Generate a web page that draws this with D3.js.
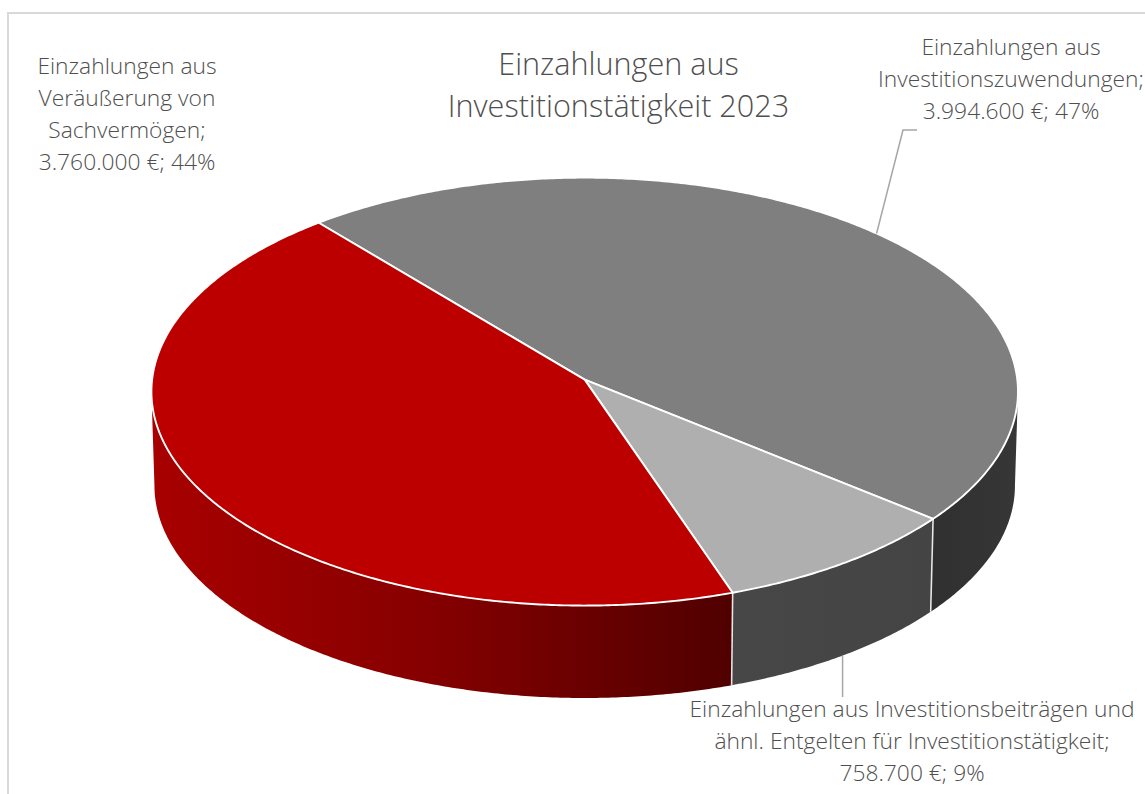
<!DOCTYPE html>
<html lang="de"><head><meta charset="utf-8">
<style>html,body{margin:0;padding:0;background:#fff;overflow:hidden}svg{display:block}text{font-family:"Open Sans",sans-serif;font-weight:300;fill:#4f4f4f;text-anchor:middle}</style>
<script src="https://cdn.jsdelivr.net/npm/d3@7"></script></head><body>
<svg id="c" width="1145" height="794"></svg>
<script>
const categories=["Einzahlungen aus Investitionszuwendungen","Einzahlungen aus Investitionsbeiträgen und ähnl. Entgelten für Investitionstätigkeit","Einzahlungen aus Veräußerung von Sachvermögen"];
const values=[3994600,758700,3760000];
const topColors=["#7f7f7f","#afafaf","#bc0000"];
const sideFills=["url(#gGrey)","url(#gLight)","url(#gRed)"];
const titleLines=["Einzahlungen aus","Investitionstätigkeit 2023"];
const labelLines=[["Einzahlungen aus","Investitionszuwendungen;","3.994.600 €; 47%"],["Einzahlungen aus Investitionsbeiträgen und","ähnl. Entgelten für Investitionstätigkeit;","758.700 €; 9%"],["Einzahlungen aus","Veräußerung von","Sachvermögen;","3.760.000 €; 44%"]];
const labelPos=[[1011,55,32],[912,717,32],[127,74,32]];
const fs=22.8, titleFs=30.6;

const svg=d3.select("#c");
const defs=svg.append("defs");
function grad(id,x1,x2,stops){const g=defs.append("linearGradient").attr("id",id).attr("gradientUnits","userSpaceOnUse").attr("x1",x1).attr("x2",x2).attr("y1",0).attr("y2",0);
 stops.forEach(s=>g.append("stop").attr("offset",s[0]).attr("stop-color",s[1]));}
grad("gRed",152,733,[[0,"#a80000"],[.45,"#880000"],[1,"#500000"]]);
grad("gLight",733,932,[[0,"#474747"],[1,"#444444"]]);
grad("gGrey",932,1016,[[0,"#303030"],[1,"#363636"]]);

// perspective disc projection
const k=0.0561;
const cx=584.7, rx=432.6;
const sx=d3.scaleLinear().domain([-1,1]).range([cx-rx,cx+rx]);
const syTop=d3.scaleLinear().domain([-1,1]).range([379.6-213.3,379.6+213.3]);
const s=0.993;
const sxBot=d3.scaleLinear().domain([-1,1]).range([cx-rx*s,cx+rx*s]);
const syBot=d3.scaleLinear().domain([-1,1]).range([473.6-213.3*s,473.6+213.3*s]);
const proj=(a,r,fx,fy)=>{const u=r*Math.sin(a),v=-r*Math.cos(a),w=1-k*v;return [fx(u/w),fy(v/w)];};
const topP=(a,r=1)=>proj(a,r,sx,syTop), botP=(a,r=1)=>proj(a,r,sxBot,syBot);
const rad=d=>d*Math.PI/180;
const start=rad(-39.9);
const arcs=d3.pie().sort(null).startAngle(start).endAngle(start+2*Math.PI)(values);
const sampleRange=(a0,a1)=>{const n=Math.max(1,Math.ceil((a1-a0)/rad(0.5)));return d3.range(n+1).map(i=>a0+(a1-a0)*i/n);};
const samples=d=>sampleRange(d.startAngle,d.endAngle);
const line=d3.line();

// frame
svg.append("rect").attr("x",8).attr("y",13).attr("width",1300).attr("height",1000).attr("fill","#fff").attr("stroke","#d9d9d9").attr("stroke-width",2);

// walls: only the front-facing part between the two silhouette angles
const frontLo=Math.PI/2+Math.asin(k), frontHi=3*Math.PI/2-Math.asin(k);
const front=d=>sampleRange(Math.max(d.startAngle,frontLo),Math.min(d.endAngle,frontHi));
svg.append("g").selectAll("path").data(arcs).join("path")
 .attr("d",d=>{const a=front(d);return line(a.map(t=>topP(t)).concat(a.slice().reverse().map(t=>botP(t))))+"Z";})
 .attr("fill",(d,i)=>sideFills[i]);
// wall seams
svg.append("g").selectAll("line").data(arcs).join("line")
 .attr("x1",d=>topP(d.startAngle)[0]).attr("y1",d=>topP(d.startAngle)[1])
 .attr("x2",d=>botP(d.startAngle)[0]).attr("y2",d=>botP(d.startAngle)[1])
 .attr("stroke","#fff").attr("stroke-width",1.6).attr("opacity",.85);
// top faces
svg.append("g").selectAll("path").data(arcs).join("path")
 .attr("d",d=>line([topP(0,0)].concat(samples(d).map(t=>topP(t))))+"Z")
 .attr("fill",(d,i)=>topColors[i]).attr("stroke","#fff").attr("stroke-width",1.9).attr("stroke-linejoin","round");

// leaders, anchored on slice mid-angles
const mid=d=>(d.startAngle+d.endAngle)/2;
const lead=svg.append("g").attr("fill","none").attr("stroke","#a6a6a6").attr("stroke-width",1.5);
const e0=topP(mid(arcs[0]));
lead.append("path").attr("d",line([e0,[903,130],[917,130]]));
const e1=botP(mid(arcs[1]));
lead.append("path").attr("d",line([e1,[e1[0],697]]));

// text
titleLines.forEach((t,i)=>svg.append("text").attr("x",618.5).attr("y",75+i*42).attr("font-size",titleFs).text(t));
labelLines.forEach((ls,i)=>ls.forEach((t,j)=>svg.append("text").attr("x",labelPos[i][0]).attr("y",labelPos[i][1]+j*labelPos[i][2]).attr("font-size",fs).text(t)));
</script></body></html>
